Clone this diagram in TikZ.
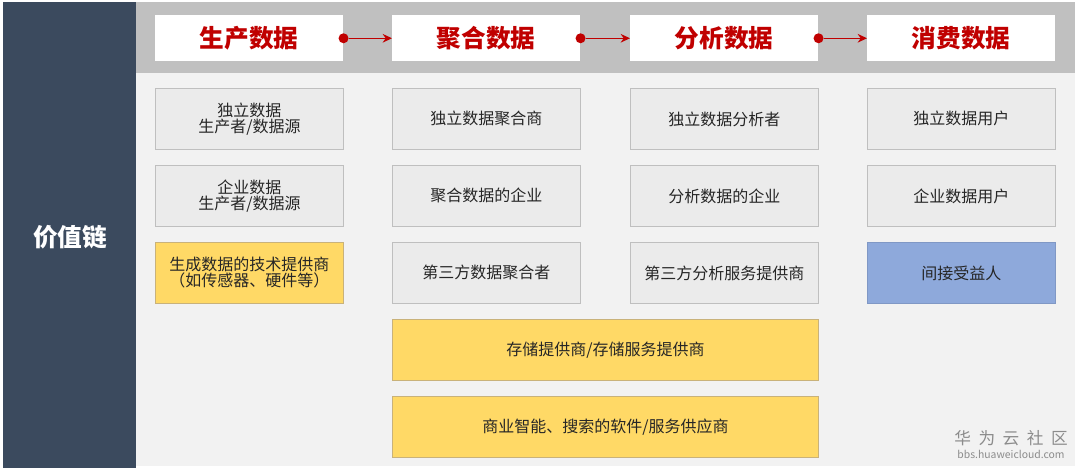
\documentclass[tikz,border=0pt]{standalone}
\usepackage{fontspec}
\setmainfont{Noto Sans CJK SC}
\definecolor{panel}{HTML}{3B4A5E}
\definecolor{band}{HTML}{C0C0C0}
\definecolor{bgl}{HTML}{F2F2F2}
\definecolor{boxg}{HTML}{EBEBEB}
\definecolor{boxgb}{HTML}{BFBFBF}
\definecolor{boxy}{HTML}{FFD966}
\definecolor{boxyb}{HTML}{C9B27A}
\definecolor{boxb}{HTML}{8EA9DB}
\definecolor{dred}{HTML}{C00000}
\usetikzlibrary{arrows.meta}
\tikzset{
  base/.style={draw, line width=0.6pt, inner sep=0pt, align=center, font=\fontsize{12}{14}\selectfont, text=black!85, anchor=north west},
  gbox/.style={base, fill=boxg, draw=boxgb},
  ybox/.style={base, fill=boxy, draw=boxyb},
  bbox/.style={base, fill=boxb, draw=boxb!90!black},
  head/.style={fill=white, inner sep=0pt, minimum width=188*0.75pt, minimum height=46*0.75pt, anchor=north west, text=dred, font=\fontsize{18.5}{20}\selectfont\bfseries},
  flow/.style={draw=dred, line width=1.1pt, -{Stealth[length=7pt,width=6.5pt]}},
  dot/.style={circle, fill=dred, inner sep=0pt, minimum size=7.5pt}
}
\begin{document}
\begin{tikzpicture}[x=0.75pt,y=-0.75pt]
\useasboundingbox (0,0) rectangle (1080,468);
\fill[white] (0,0) rectangle (1080,468);
\fill[panel] (3,2) rectangle (136,468);
\fill[band] (136,2) rectangle (1075,73);
\fill[bgl] (136,73) rectangle (1075,466);
\node[text=white, font=\fontsize{18.5}{20}\selectfont\bfseries] (vc) at (70,237) {价值链};
% headers
\node[head] (h1) at (155,15) {生产数据};
\node[head] (h2) at (392,15) {聚合数据};
\node[head] (h3) at (630,15) {分析数据};
\node[head] (h4) at (867,15) {消费数据};
\node[dot] (d1) at (h1.east) {};
\node[dot] (d2) at (h2.east) {};
\node[dot] (d3) at (h3.east) {};
\draw[flow] (d1) -- (h2.west);
\draw[flow] (d2) -- (h3.west);
\draw[flow] (d3) -- (h4.west);
\tikzset{sz/.style={minimum width=188*0.75pt, minimum height=61*0.75pt}}
% column 1
\node[gbox, sz] (a1) at (155,88) {独立数据\\[-2pt]生产者/数据源};
\node[gbox, sz] (a2) at (155,165) {企业数据\\[-2pt]生产者/数据源};
\node[ybox, sz] (a3) at (155,242) {生成数据的技术提供商\\[-2pt]（如传感器、硬件等）};
% column 2
\node[gbox, sz] (b1) at (392,88) {独立数据聚合商};
\node[gbox, sz] (b2) at (392,165) {聚合数据的企业};
\node[gbox, sz] (b3) at (392,242) {第三方数据聚合者};
% column 3
\node[gbox, sz] (c1) at (630,88) {独立数据分析者};
\node[gbox, sz] (c2) at (630,165) {分析数据的企业};
\node[gbox, sz] (c3) at (630,242) {第三方分析服务提供商};
% column 4
\node[gbox, sz] (e1) at (867,88) {独立数据用户};
\node[gbox, sz] (e2) at (867,165) {企业数据用户};
\node[bbox, sz] (e3) at (867,242) {间接受益人};
% wide
\node[ybox, minimum width=426*0.75pt, minimum height=61*0.75pt] (s1) at (392,319) {存储提供商/存储服务提供商};
\node[ybox, minimum width=426*0.75pt, minimum height=61*0.75pt] (s2) at (392,396) {商业智能、搜索的软件/服务供应商};
% watermark
\node[text=black!45, font=\fontsize{12.5}{12}\selectfont] (w1) at (1011,438) {华\hspace{0.45em}为\hspace{0.45em}云\hspace{0.45em}社\hspace{0.45em}区};
\node[text=black!45, font=\fontsize{7.8}{7}\selectfont] (w2) at (1011,454) {bbs.huaweicloud.com};
\end{tikzpicture}
\end{document}
